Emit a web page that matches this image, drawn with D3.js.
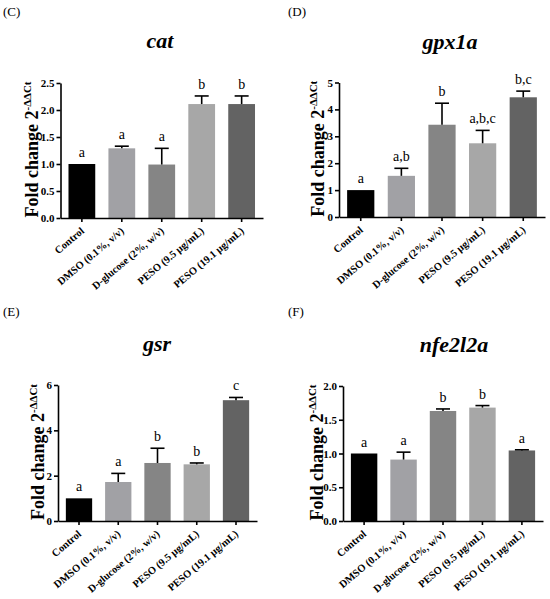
<!DOCTYPE html>
<html>
<head>
<meta charset="utf-8">
<script src="https://cdn.jsdelivr.net/npm/d3@7"></script>
<style>
  html, body { margin: 0; padding: 0; background: #fff; }
  svg { display: block; }
  svg text { font-family: "Liberation Serif", "Times New Roman", serif; }
</style>
</head>
<body>
<svg id="chart" width="550" height="599"></svg>
<script>
// ---------------- data ----------------
const categories = ["Control", "DMSO (0.1%, v/v)", "D-glucose (2%, w/v)", "PESO (9.5 µg/mL)", "PESO (19.1 µg/mL)"];
const barColors = ["#000000", "#a1a1a5", "#858585", "#a7a7a7", "#636363"];

const catMean = [1.00, 1.29, 0.99, 2.11, 2.11];
const catErr = [0.00, 0.04, 0.30, 0.15, 0.15];
const catLetters = ["a", "a", "a", "b", "b"];
const catTicks = [0, 0.5, 1.0, 1.5, 2.0, 2.5];
const catTickLabels = ["0.0", "0.5", "1.0", "1.5", "2.0", "2.5"];

const gpxMean = [1.00, 1.53, 3.43, 2.74, 4.45];
const gpxErr = [0.00, 0.28, 0.80, 0.48, 0.23];
const gpxLetters = ["a", "a,b", "b", "a,b,c", "b,c"];
const gpxTicks = [0, 1, 2, 3, 4, 5];
const gpxTickLabels = ["0", "1", "2", "3", "4", "5"];

const gsrMean = [1.00, 1.72, 2.56, 2.50, 5.33];
const gsrErr = [0.00, 0.38, 0.65, 0.06, 0.12];
const gsrLetters = ["a", "a", "b", "b", "c"];
const gsrTicks = [0, 2, 4, 6];
const gsrTickLabels = ["0", "2", "4", "6"];

const nfeMean = [1.00, 0.91, 1.63, 1.68, 1.045];
const nfeErr = [0.00, 0.11, 0.03, 0.03, 0.01];
const nfeLetters = ["a", "a", "b", "b", "a"];
const nfeTicks = [0, 0.5, 1.0, 1.5, 2.0];
const nfeTickLabels = ["0.0", "0.5", "1.0", "1.5", "2.0"];

const panelLabels = ["(C)", "(D)", "(E)", "(F)"];
const geneNames = ["cat", "gpx1a", "gsr", "nfe2l2a"];

// ---------------- layout ----------------
const FONT = "Liberation Serif, Times New Roman, serif";
const panels = [
  { mean: catMean, err: catErr, letters: catLetters, ticks: catTicks, tickLabels: catTickLabels,
    left: 60.5, right: 263, top: 83, bottom: 218, titleX: 160, titleY: 48, labX: 3, labY: 16, yLabX: 38 },
  { mean: gpxMean, err: gpxErr, letters: gpxLetters, ticks: gpxTicks, tickLabels: gpxTickLabels,
    left: 339, right: 545, top: 82.5, bottom: 217, titleX: 450, titleY: 49, labX: 288, labY: 16, yLabX: 324 },
  { mean: gsrMean, err: gsrErr, letters: gsrLetters, ticks: gsrTicks, tickLabels: gsrTickLabels,
    left: 58, right: 257, top: 385, bottom: 521, titleX: 157, titleY: 351, labX: 3, labY: 316, yLabX: 44 },
  { mean: nfeMean, err: nfeErr, letters: nfeLetters, ticks: nfeTicks, tickLabels: nfeTickLabels,
    left: 343, right: 543, top: 386, bottom: 521, titleX: 454, titleY: 352, labX: 288, labY: 316, yLabX: 323 }
];

const svg = d3.select("#chart");

panels.forEach((p, pi) => {
  const g = svg.append("g").attr("font-family", FONT);
  const x = d3.scaleBand().domain(categories).range([p.left, p.right]).paddingInner(0.33).paddingOuter(0.2);
  const y = d3.scaleLinear().domain([0, p.ticks[p.ticks.length - 1]]).range([p.bottom, p.top]);

  // panel label
  g.append("text").attr("x", p.labX).attr("y", p.labY).attr("font-family", FONT)
    .attr("font-size", 13).attr("fill", "#000").text(panelLabels[pi]);

  // title
  g.append("text").attr("x", p.titleX).attr("y", p.titleY).attr("font-family", FONT)
    .attr("text-anchor", "middle").attr("font-size", 22)
    .attr("font-weight", "bold").attr("font-style", "italic").text(geneNames[pi]);

  // y label
  const yl = g.append("text").attr("font-family", FONT)
    .attr("transform", `translate(${p.yLabX},${(p.top + p.bottom) / 2 - 1}) rotate(-90)`)
    .attr("text-anchor", "middle").attr("font-size", 18).attr("font-weight", "bold");
  yl.append("tspan").text("Fold change 2");
  yl.append("tspan").attr("font-size", 11).attr("dy", -7).text("-ΔΔCt");

  const data = categories.map((c, i) => ({ c, m: p.mean[i], e: p.err[i], l: p.letters[i], col: barColors[i] }));

  // bars
  g.selectAll("rect.bar").data(data).enter().append("rect")
    .attr("x", d => x(d.c)).attr("width", x.bandwidth())
    .attr("y", d => y(d.m)).attr("height", d => y(0) - y(d.m))
    .attr("fill", d => d.col);

  // error bars (upper only)
  const cap = 14;
  data.forEach(d => {
    if (d.e <= 0) return;
    const cx = x(d.c) + x.bandwidth() / 2;
    g.append("line").attr("x1", cx).attr("x2", cx).attr("y1", y(d.m)).attr("y2", y(d.m + d.e))
      .attr("stroke", "#000").attr("stroke-width", 1.6);
    g.append("line").attr("x1", cx - cap / 2).attr("x2", cx + cap / 2)
      .attr("y1", y(d.m + d.e)).attr("y2", y(d.m + d.e))
      .attr("stroke", "#000").attr("stroke-width", 1.6);
  });

  // significance letters
  g.selectAll("text.sig").data(data).enter().append("text")
    .attr("font-family", FONT)
    .attr("x", d => x(d.c) + x.bandwidth() / 2)
    .attr("y", d => y(d.m + d.e) - 7)
    .attr("text-anchor", "middle").attr("font-size", 14).attr("fill", "#000").text(d => d.l);

  // y axis
  const yAxis = d3.axisLeft(y).tickValues(p.ticks)
    .tickFormat((v, i) => p.tickLabels[i]).tickSize(4).tickSizeOuter(0).tickPadding(2);
  const ya = g.append("g").attr("transform", `translate(${p.left},0)`).call(yAxis);
  ya.attr("font-family", FONT);
  ya.select(".domain").attr("stroke-width", 1.6);
  ya.selectAll(".tick line").attr("stroke-width", 1.6);
  ya.selectAll(".tick text").attr("font-family", FONT).attr("font-weight", "bold")
    .attr("font-size", 11).attr("fill", "#000");

  // x axis
  const xAxis = d3.axisBottom(x).tickSize(4).tickSizeOuter(0).tickPadding(0);
  const xa = g.append("g").attr("transform", `translate(0,${p.bottom})`).call(xAxis);
  xa.attr("font-family", FONT);
  xa.select(".domain").attr("stroke-width", 1.6);
  xa.selectAll(".tick line").attr("stroke-width", 1.6);
  xa.selectAll(".tick text")
    .attr("font-family", FONT).attr("font-weight", "bold")
    .attr("font-size", 10.5).attr("fill", "#000")
    .attr("text-anchor", "end").attr("dy", null).attr("y", null)
    .attr("transform", "translate(3,14) rotate(-40)");
});
</script>
</body>
</html>
